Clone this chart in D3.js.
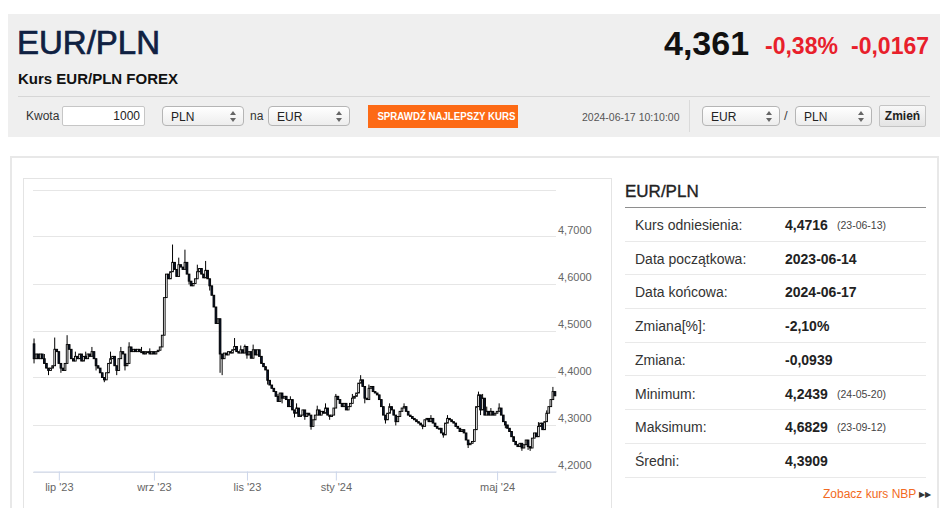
<!DOCTYPE html>
<html lang="pl">
<head>
<meta charset="utf-8">
<script src="https://cdn.jsdelivr.net/npm/d3@7"></script>
<style>
body { margin:0; width:948px; height:508px; overflow:hidden; background:#fff; position:relative;
       font-family:"Liberation Sans", Arial, sans-serif; color:#222; }
.a { position:absolute; white-space:nowrap; }
#top { left:8px; top:14px; width:932px; height:123px; background:#efefef; }
.sel { height:20px; line-height:20px; font-size:12px; padding-left:8px; box-sizing:border-box;
       border:1px solid #b5b5b5; border-radius:4px; background:linear-gradient(#fff,#ededed); color:#222; }
.sel::before { content:""; position:absolute; right:7px; top:4px; border-left:3px solid transparent;
       border-right:3px solid transparent; border-bottom:4px solid #666; }
.sel::after { content:""; position:absolute; right:7px; top:11px; border-left:3px solid transparent;
       border-right:3px solid transparent; border-top:4px solid #666; }
#panel { left:10px; top:156px; width:925px; height:400px; border:2px solid #e8e8e8; }
#chartBox { left:23px; top:178px; width:587px; height:400px; border:1px solid #e4e4e4; }
.row { left:625px; width:301px; height:32.7px; border-bottom:1px solid #e9e9e9; font-size:14px; }
.row .l { position:absolute; left:10px; top:9px; color:#333; }
.row .v { position:absolute; left:160px; top:9px; font-weight:bold; color:#222; }
.row .d { position:absolute; left:212px; top:11px; font-size:10.5px; color:#444; }
</style>
</head>
<body>
<div id="top" class="a"></div>
<div class="a" style="left:17px;top:24px;font-size:33px;color:#0f2142;-webkit-text-stroke:0.7px #0f2142;">EUR/PLN</div>
<div class="a" style="left:664px;top:24px;font-size:34px;font-weight:bold;color:#111;">4,361</div>
<div class="a" style="left:765px;top:33px;font-size:23px;font-weight:bold;color:#e8202b;">-0,38%</div>
<div class="a" style="left:851px;top:33px;font-size:23px;font-weight:bold;color:#e8202b;">-0,0167</div>
<div class="a" style="left:18px;top:70px;font-size:15px;font-weight:bold;color:#111;">Kurs EUR/PLN FOREX</div>
<div class="a" style="left:18px;top:96px;width:912px;height:1px;background:#d6d6d6;"></div>

<div class="a" style="left:26px;top:109px;font-size:12px;color:#333;">Kwota</div>
<div class="a" style="left:62px;top:106px;width:83px;height:20px;box-sizing:border-box;border:1px solid #c6c6c6;background:#fff;border-radius:2px;font-size:12px;line-height:18px;text-align:right;padding-right:4px;">1000</div>
<div class="a sel" style="left:162px;top:106px;width:82px;">PLN</div>
<div class="a" style="left:250px;top:109px;font-size:12px;color:#333;">na</div>
<div class="a sel" style="left:268px;top:106px;width:82px;">EUR</div>
<div class="a" style="left:368px;top:105px;width:150px;height:23px;background:#fd6a15;color:#fff;font-size:11px;font-weight:bold;line-height:23px;text-align:center;"><span style="display:inline-block;transform:scaleX(0.88);">SPRAWDŹ NAJLEPSZY KURS</span></div>
<div class="a" style="left:582px;top:111px;font-size:10.5px;color:#555;">2024-06-17 10:10:00</div>
<div class="a" style="left:689px;top:100px;width:1px;height:32px;background:#dadada;"></div>
<div class="a sel" style="left:702px;top:106px;width:78px;">EUR</div>
<div class="a" style="left:784px;top:108px;font-size:13px;color:#444;">/</div>
<div class="a sel" style="left:795px;top:106px;width:77px;">PLN</div>
<div class="a" style="left:879px;top:105px;width:47px;height:22px;box-sizing:border-box;border:1px solid #c4c4c4;border-radius:2px;background:linear-gradient(#f8f8f8,#e4e4e4);font-size:12px;font-weight:bold;line-height:20px;text-align:center;color:#222;">Zmień</div>

<div id="panel" class="a"></div>
<div id="chartBox" class="a"></div>

<div class="a" style="left:625px;top:182px;font-size:17px;color:#222;-webkit-text-stroke:0.35px #222;">EUR/PLN</div>
<div class="a" style="left:625px;top:207px;width:301px;height:1px;background:#8e8e8e;"></div>
<div id="table"></div>
<div class="a" style="left:823px;top:487px;font-size:12px;color:#f26a22;">Zobacz kurs NBP <span style="color:#333;font-size:8px;position:relative;top:-1px;">▶▶</span></div>

<svg id="chart" class="a" style="left:0;top:0;" width="948" height="508"></svg>

<script>
// EUR/PLN daily candles, 2023-06-14 .. 2024-06-17 (closes)
const refRate = 4.4716;
const closes = [
  4.440, 4.450, 4.440, 4.450, 4.440, 4.430, 4.420, 4.415, 4.420, 4.425,
  4.460, 4.455, 4.430, 4.420, 4.415, 4.430, 4.470, 4.460, 4.440, 4.435,
  4.445, 4.440, 4.450, 4.435, 4.445, 4.440, 4.450, 4.445, 4.455, 4.440,
  4.425, 4.420, 4.410, 4.400, 4.395, 4.410, 4.430, 4.440, 4.445, 4.425,
  4.415, 4.440, 4.455, 4.450, 4.425, 4.430, 4.465, 4.455, 4.460, 4.455,
  4.460, 4.455, 4.455, 4.450, 4.455, 4.455, 4.450, 4.455, 4.450, 4.455,
  4.458, 4.465, 4.490, 4.570, 4.620, 4.610, 4.625, 4.645, 4.630, 4.615,
  4.640, 4.635, 4.630, 4.645, 4.620, 4.605, 4.595, 4.600, 4.610, 4.625,
  4.632, 4.620, 4.612, 4.628, 4.610, 4.595, 4.575, 4.550, 4.515, 4.525,
  4.450, 4.440, 4.452, 4.448, 4.455, 4.452, 4.459, 4.466, 4.455, 4.452,
  4.459, 4.452, 4.466, 4.448, 4.455, 4.441, 4.459, 4.448, 4.459, 4.445,
  4.430, 4.423, 4.416, 4.394, 4.384, 4.377, 4.370, 4.360, 4.349, 4.367,
  4.356, 4.360, 4.353, 4.338, 4.353, 4.331, 4.324, 4.335, 4.317, 4.320,
  4.331, 4.317, 4.324, 4.320, 4.296, 4.310, 4.320, 4.331, 4.320, 4.328,
  4.324, 4.335, 4.320, 4.317, 4.320, 4.335, 4.360, 4.353, 4.345, 4.338,
  4.345, 4.331, 4.338, 4.345, 4.356, 4.360, 4.367, 4.388, 4.395, 4.381,
  4.356, 4.353, 4.377, 4.381, 4.370, 4.367, 4.363, 4.353, 4.338, 4.320,
  4.310, 4.324, 4.338, 4.331, 4.320, 4.306, 4.317, 4.328, 4.335, 4.338,
  4.328, 4.320, 4.317, 4.313, 4.310, 4.306, 4.303, 4.299, 4.296, 4.310,
  4.313, 4.306, 4.313, 4.303, 4.296, 4.292, 4.292, 4.282, 4.278, 4.303,
  4.313, 4.310, 4.306, 4.303, 4.296, 4.292, 4.285, 4.289, 4.282, 4.267,
  4.257, 4.260, 4.264, 4.289, 4.338, 4.363, 4.331, 4.356, 4.320, 4.328,
  4.320, 4.328, 4.320, 4.324, 4.328, 4.335, 4.320, 4.306, 4.299, 4.292,
  4.285, 4.274, 4.264, 4.257, 4.253, 4.260, 4.250, 4.257, 4.267, 4.253,
  4.250, 4.271, 4.282, 4.274, 4.296, 4.303, 4.289, 4.306, 4.324, 4.338,
  4.353, 4.370, 4.361
];

// visible wick extremes (candle index, value)
const highIdx = [0, 5, 10, 16, 20, 25, 28, 37, 42, 46, 52, 56, 67, 70, 73, 79, 83, 97, 100, 102, 106,
  118, 124, 127, 137, 141, 146, 154, 158, 162, 172, 179, 192, 200, 215, 217, 219, 221, 225, 233, 244, 248, 251];
const highVal = [4.483, 4.45, 4.485, 4.49, 4.455, 4.455, 4.465, 4.455, 4.465, 4.475, 4.465, 4.462, 4.6829, 4.655, 4.672, 4.64, 4.648, 4.484, 4.468, 4.47, 4.47,
  4.365, 4.36, 4.345, 4.34, 4.345, 4.365, 4.365, 4.405, 4.385, 4.345, 4.345, 4.32, 4.32, 4.37, 4.365, 4.338, 4.335, 4.345, 4.265, 4.305, 4.33, 4.38];
const lowIdx = [0, 7, 13, 30, 34, 40, 44, 75, 85, 90, 91, 103, 113, 120, 126, 131, 134, 143, 160, 170, 175,
  188, 198, 210, 216, 228, 236, 239, 240];
const lowVal = [4.43, 4.405, 4.41, 4.415, 4.39, 4.405, 4.415, 4.598, 4.585, 4.41, 4.405, 4.44, 4.385, 4.345, 4.315, 4.31, 4.289, 4.31, 4.345, 4.302, 4.298,
  4.29, 4.272, 4.25, 4.32, 4.292, 4.244, 4.246, 4.2439];

// x axis: first candle of each labelled month
const monthIdx = [12, 58, 103, 146, 224];
const monthLabels = ["lip '23", "wrz '23", "lis '23", "sty '24", "maj '24"];
const yTicks = [4.2, 4.3, 4.4, 4.5, 4.6, 4.7, 4.8];

// side table
const statLabels = ["Kurs odniesienia:", "Data początkowa:", "Data końcowa:", "Zmiana[%]:", "Zmiana:", "Minimum:", "Maksimum:", "Średni:"];
const statValues = ["4,4716", "2023-06-14", "2024-06-17", "-2,10%", "-0,0939", "4,2439", "4,6829", "4,3909"];
const statDates = ["(23-06-13)", "", "", "", "", "(24-05-20)", "(23-09-12)", ""];

// build candles
const candles = closes.map((c, i) => {
  const o = i === 0 ? refRate : closes[i - 1];
  let h = Math.max(o, c), l = Math.min(o, c);
  const hi = highIdx.indexOf(i); if (hi >= 0) h = Math.max(h, highVal[hi]);
  const li = lowIdx.indexOf(i); if (li >= 0) l = Math.min(l, lowVal[li]);
  return { i, o, h, l, c };
});

const svg = d3.select("#chart");
const x = d3.scaleLinear().domain([-0.5, closes.length - 0.5]).range([33, 556]);
const y = d3.scaleLinear().domain([4.2, 4.8]).range([471.5, 189.5]);
const fmt = v => d3.format(".4f")(v).replace(".", ",");

// gridlines
svg.append("g").selectAll("line").data(yTicks).join("line")
  .attr("x1", 33).attr("x2", 556)
  .attr("y1", d => Math.round(y(d)) + 0.5).attr("y2", d => Math.round(y(d)) + 0.5)
  .attr("stroke", "#e6e6e6").attr("stroke-width", 1);

// y labels (right side, above line)
const yAxis = svg.append("g").attr("transform", "translate(556,0)")
  .call(d3.axisRight(y).tickValues(yTicks.slice(0, -1)).tickSize(0).tickPadding(2).tickFormat(fmt));
yAxis.select(".domain").remove();
yAxis.selectAll("text").attr("dy", "-0.25em").attr("fill", "#666")
  .style("font-family", "'Liberation Sans', Arial, sans-serif").style("font-size", "11px");

// x axis
const xAxis = svg.append("g").attr("transform", "translate(0,471.5)")
  .call(d3.axisBottom(x).tickValues(monthIdx).tickSizeInner(9).tickSizeOuter(0).tickPadding(3)
    .tickFormat((d, k) => monthLabels[k]));
xAxis.select(".domain").attr("stroke", "#ccd6eb");
xAxis.selectAll(".tick line").attr("stroke", "#ccd6eb");
xAxis.selectAll("text").attr("fill", "#666")
  .style("font-family", "'Liberation Sans', Arial, sans-serif").style("font-size", "11px");

// candles
const g = svg.append("g");
g.selectAll("line.wick").data(candles).join("line").attr("class", "wick")
  .attr("x1", d => x(d.i)).attr("x2", d => x(d.i))
  .attr("y1", d => y(d.h)).attr("y2", d => y(d.l))
  .attr("stroke", "#000").attr("stroke-width", 1);
g.selectAll("rect").data(candles).join("rect")
  .attr("x", d => x(d.i) - 0.85).attr("width", 1.7)
  .attr("y", d => y(Math.max(d.o, d.c)))
  .attr("height", d => Math.max(1, Math.abs(y(d.o) - y(d.c))))
  .attr("fill", d => d.c >= d.o ? "#fff" : "#0a1834")
  .attr("stroke", "#000").attr("stroke-width", 0.9);

// side table rows
const rows = d3.select("#table").selectAll("div").data(statLabels).join("div")
  .attr("class", "a row")
  .style("top", (d, k) => (208 + k * 33.7) + "px");
rows.append("span").attr("class", "l").text(d => d);
rows.append("span").attr("class", "v").text((d, k) => statValues[k]);
rows.append("span").attr("class", "d").text((d, k) => statDates[k]);
</script>
</body>
</html>
